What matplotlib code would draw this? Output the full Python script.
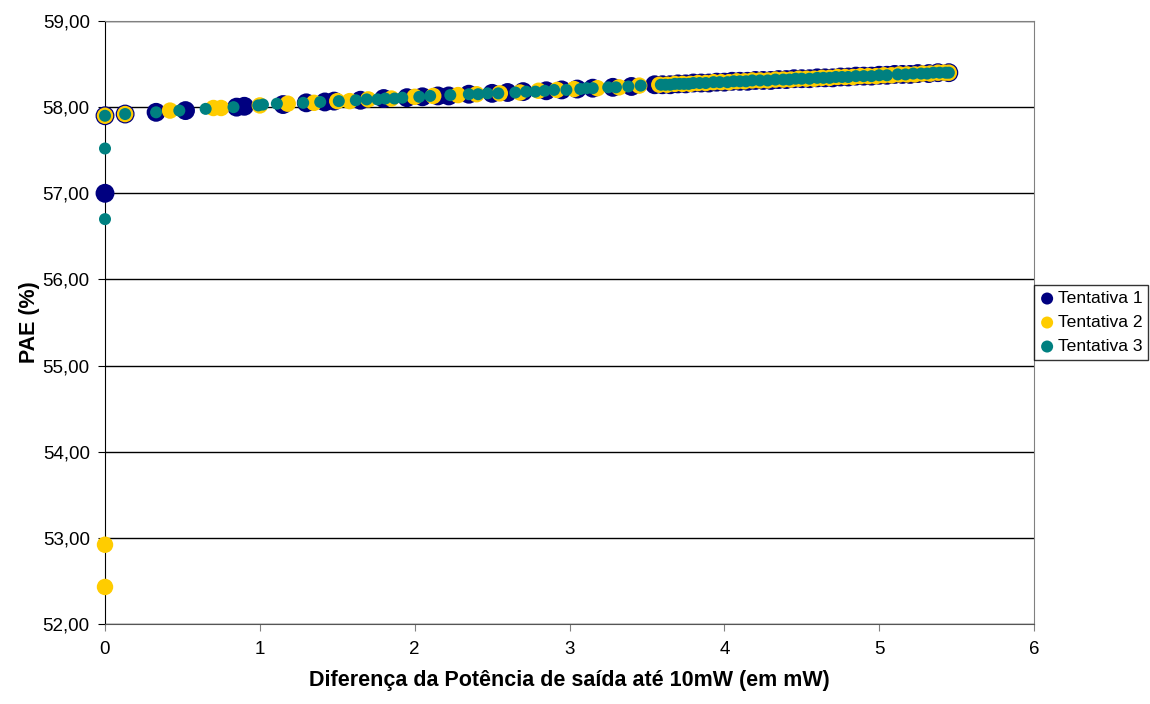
import matplotlib.pyplot as plt
from matplotlib.ticker import FuncFormatter

plt.rcParams['font.family'] = ['Liberation Sans', 'DejaVu Sans']

# Tentativa 1
t1_x = [0, 0, 0.13, 0.33, 0.52, 0.85, 0.90, 1.15, 1.30, 1.42, 1.48, 1.65, 1.80, 1.95, 2.05,
        2.15, 2.22, 2.35, 2.50, 2.60, 2.70, 2.85, 2.95, 3.05, 3.15, 3.28, 3.40, 3.55, 3.60,
        3.65, 3.70, 3.75, 3.80, 3.85, 3.90, 3.95, 4.00, 4.05, 4.10, 4.15, 4.20, 4.25, 4.30,
        4.35, 4.40, 4.45, 4.50, 4.55, 4.60, 4.65, 4.70, 4.75, 4.80, 4.85, 4.90, 4.95, 5.00,
        5.05, 5.10, 5.15, 5.20, 5.25, 5.32, 5.38, 5.45]
t1_y = [57.90, 57.00, 57.92, 57.94, 57.96, 58.00, 58.01, 58.03, 58.05, 58.06, 58.07, 58.08,
        58.10, 58.11, 58.12, 58.13, 58.13, 58.15, 58.16, 58.17, 58.18, 58.19, 58.20, 58.21,
        58.22, 58.23, 58.24, 58.26, 58.26, 58.26, 58.27, 58.27, 58.28, 58.28, 58.28, 58.29,
        58.29, 58.30, 58.30, 58.30, 58.31, 58.31, 58.31, 58.32, 58.32, 58.33, 58.33, 58.33,
        58.34, 58.34, 58.34, 58.35, 58.35, 58.36, 58.36, 58.36, 58.37, 58.37, 58.38, 58.38,
        58.38, 58.39, 58.39, 58.40, 58.40]

# Tentativa 2
t2_x = [0, 0, 0, 0.13, 0.42, 0.70, 0.75, 1.00, 1.18, 1.35, 1.50, 1.58, 1.70, 1.85, 2.00,
        2.12, 2.28, 2.40, 2.55, 2.68, 2.80, 2.92, 3.03, 3.18, 3.32, 3.45, 3.58, 3.63, 3.68,
        3.73, 3.78, 3.83, 3.88, 3.93, 3.98, 4.03, 4.08, 4.13, 4.18, 4.23, 4.28, 4.33, 4.38,
        4.43, 4.48, 4.53, 4.58, 4.63, 4.68, 4.73, 4.78, 4.83, 4.88, 4.93, 4.98, 5.03, 5.08,
        5.13, 5.18, 5.23, 5.28, 5.33, 5.38, 5.42, 5.45]
t2_y = [57.90, 52.92, 52.43, 57.92, 57.96, 57.99, 57.99, 58.02, 58.04, 58.05, 58.07, 58.07,
        58.09, 58.10, 58.12, 58.13, 58.14, 58.15, 58.16, 58.17, 58.19, 58.20, 58.21, 58.22,
        58.23, 58.25, 58.26, 58.26, 58.27, 58.27, 58.27, 58.28, 58.28, 58.29, 58.29, 58.29,
        58.30, 58.30, 58.31, 58.31, 58.31, 58.32, 58.32, 58.32, 58.33, 58.33, 58.33, 58.34,
        58.34, 58.35, 58.35, 58.35, 58.36, 58.36, 58.36, 58.37, 58.37, 58.38, 58.38, 58.38,
        58.39, 58.39, 58.40, 58.40, 58.40]

# Tentativa 3
t3_x = [0, 0, 0, 0.13, 0.33, 0.48, 0.65, 0.83, 0.99, 1.02, 1.11, 1.28, 1.39, 1.51, 1.62,
        1.69, 1.76, 1.81, 1.87, 1.92, 2.03, 2.10, 2.23, 2.35, 2.41, 2.47, 2.54, 2.65, 2.72,
        2.78, 2.84, 2.90, 2.98, 3.07, 3.11, 3.15, 3.25, 3.30, 3.38, 3.46, 3.59, 3.62, 3.65,
        3.68, 3.71, 3.74, 3.77, 3.80, 3.84, 3.88, 3.93, 3.97, 4.02, 4.06, 4.10, 4.14, 4.18,
        4.23, 4.28, 4.33, 4.38, 4.42, 4.46, 4.50, 4.55, 4.60, 4.64, 4.68, 4.72, 4.76, 4.80,
        4.85, 4.90, 4.95, 5.00, 5.05, 5.12, 5.17, 5.22, 5.27, 5.31, 5.35, 5.39, 5.43, 5.45]
t3_y = [57.90, 57.52, 56.70, 57.92, 57.94, 57.96, 57.98, 58.00, 58.02, 58.03, 58.04, 58.05,
        58.06, 58.07, 58.08, 58.09, 58.09, 58.10, 58.10, 58.11, 58.12, 58.13, 58.14, 58.15,
        58.15, 58.16, 58.16, 58.17, 58.18, 58.18, 58.19, 58.20, 58.20, 58.21, 58.22, 58.22,
        58.23, 58.23, 58.24, 58.25, 58.26, 58.26, 58.26, 58.27, 58.27, 58.27, 58.27, 58.28,
        58.28, 58.28, 58.29, 58.29, 58.29, 58.30, 58.30, 58.30, 58.31, 58.31, 58.31, 58.32,
        58.32, 58.32, 58.33, 58.33, 58.33, 58.34, 58.34, 58.34, 58.35, 58.35, 58.35, 58.36,
        58.36, 58.36, 58.37, 58.37, 58.38, 58.38, 58.39, 58.39, 58.39, 58.40, 58.40, 58.40,
        58.40]

fig = plt.figure(figsize=(11.5, 7.04), dpi=100)
ax = fig.add_axes([105 / 1150, 80 / 704, 929 / 1150, 603 / 704])

ax.scatter(t1_x, t1_y, s=185, color='#000080', edgecolors='none', label='Tentativa 1', zorder=3, clip_on=False)
ax.scatter(t2_x, t2_y, s=140, color='#FFCC00', edgecolors='none', label='Tentativa 2', zorder=4, clip_on=False)
ax.scatter(t3_x, t3_y, s=75, color='#008080', edgecolors='none', label='Tentativa 3', zorder=5, clip_on=False)

ax.set_xlim(0, 6)
ax.set_ylim(52, 59)
ax.set_xticks(range(0, 7))
ax.set_yticks(range(52, 60))
ax.yaxis.set_major_formatter(FuncFormatter(lambda v, p: ('%.2f' % v).replace('.', ',')))
ax.grid(axis='y', color='black', linewidth=1)
ax.set_axisbelow(True)

ax.spines['top'].set_color('#808080')
ax.spines['right'].set_color('#808080')
ax.spines['left'].set_color('black')
ax.spines['bottom'].set_color('#555555')
ax.tick_params(axis='both', labelsize=13.5, length=5, direction='out')
ax.tick_params(axis='x', color='#808080', pad=7)
ax.tick_params(axis='y', pad=6)

ax.set_xlabel('Diferença da Potência de saída até 10mW (em mW)', fontsize=15.5, fontweight='bold', labelpad=9)
ax.set_ylabel('PAE (%)', fontsize=15.5, fontweight='bold', labelpad=2)

leg = ax.legend(loc='center left', bbox_to_anchor=(1.0, 0.5), fontsize=12.6, frameon=True,
                fancybox=False, edgecolor='black', handletextpad=0.2, borderpad=0.35,
                labelspacing=0.5, handlelength=0.8, borderaxespad=0)
for h in leg.legend_handles:
    h.set_sizes([75])
leg.get_frame().set_linewidth(1)

fig.savefig('out.png', dpi=100)
